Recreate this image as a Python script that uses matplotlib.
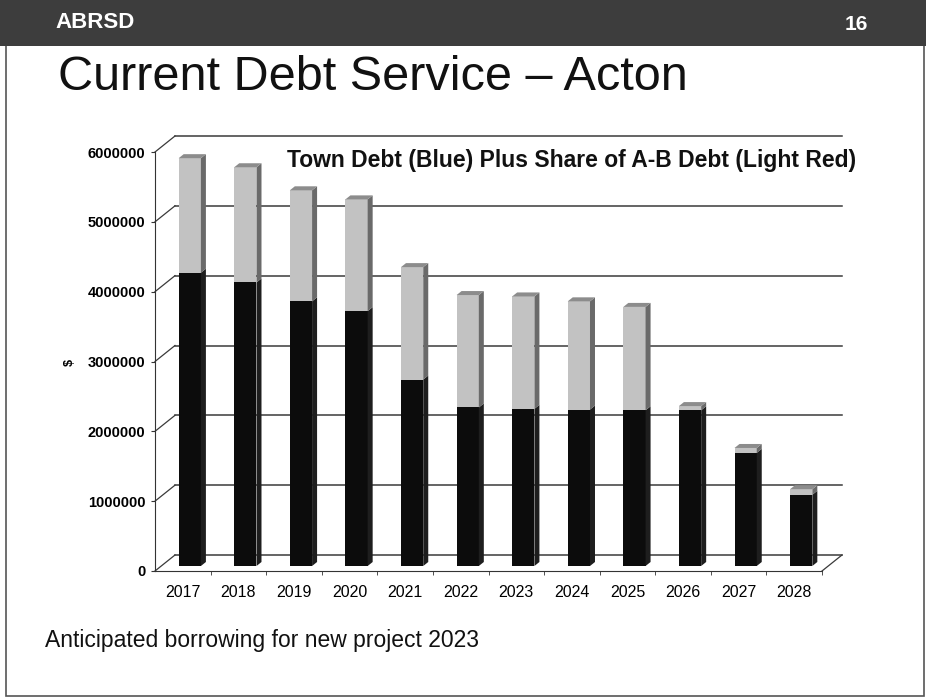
import matplotlib
matplotlib.use("Agg")
import matplotlib.pyplot as plt
from matplotlib.patches import Polygon, Rectangle
from matplotlib.transforms import offset_copy

# data ($)
years = ['2017', '2018', '2019', '2020', '2021', '2022',
         '2023', '2024', '2025', '2026', '2027', '2028']
town_debt = [4200000, 4060000, 3790000, 3650000, 2670000, 2270000,
             2250000, 2240000, 2230000, 2230000, 1620000, 1020000]
ab_share = [1640000, 1650000, 1590000, 1600000, 1610000, 1610000,
            1610000, 1550000, 1480000, 60000, 70000, 80000]
y_ticks = [0, 1000000, 2000000, 3000000, 4000000, 5000000, 6000000]

plt.rcParams['font.family'] = ['Liberation Sans', 'DejaVu Sans']

W, H = 926, 698
fig = plt.figure(figsize=(W / 100, H / 100), dpi=100)
fig.patch.set_facecolor('white')

# slide frame + header band
fig.add_artist(Rectangle((6 / W, 2 / H), 918 / W, 694 / H, transform=fig.transFigure,
                         fill=False, edgecolor='#555555', lw=1.2))
fig.add_artist(Rectangle((0, 1 - 46 / H), 1, 46 / H, transform=fig.transFigure,
                         facecolor='#3d3d3d', edgecolor='none'))
fig.text(55 / W, 1 - 23 / H, 'ABRSD', color='white', fontsize=16, fontweight='bold',
         ha='left', va='center')
fig.text(868 / W, 1 - 25 / H, '16', color='white', fontsize=15, fontweight='bold',
         ha='right', va='center')
fig.text(58 / W, 1 - 77 / H, 'Current Debt Service \u2013 Acton', fontsize=35,
         ha='left', va='center', color='#111111')
fig.text(45 / W, 1 - 640 / H, 'Anticipated borrowing for new project 2023', fontsize=16.5,
         ha='left', va='center', color='#111111')

# front plane of the 3D-look chart
ax = fig.add_axes([155 / W, (H - 571) / H, 667 / W, 419 / H])
ax.set_xlim(-0.5, len(years) - 0.5)
ax.set_ylim(0, 6000000)
ax.patch.set_alpha(0)
for s in ['top', 'right']:
    ax.spines[s].set_visible(False)
ax.spines['left'].set_color('#333333')
ax.spines['bottom'].set_color('#333333')

ax.set_yticks(y_ticks)
ax.set_yticklabels([str(v) for v in y_ticks], fontsize=10.5, fontweight='bold')
ax.tick_params(axis='y', length=3, pad=4, color='#333333')
ax.set_xticks(range(len(years)))
ax.set_xticklabels(years, fontsize=11.5)
ax.tick_params(axis='x', which='major', length=0, pad=10)
ax.set_xticks([i + 0.5 for i in range(len(years))], minor=True)
ax.tick_params(axis='x', which='minor', length=3, color='#333333')

fig.canvas.draw()
inv = ax.transData.inverted()


def px(dx, dy):
    x0, y0 = inv.transform((0, 0))
    x1, y1 = inv.transform((dx, dy))
    return x1 - x0, y1 - y0


bdx, bdy = px(20, 16)   # depth of back wall
ddx, ddy = px(5, 4)     # depth of each bar
x_lo, x_hi = -0.5, len(years) - 0.5

# back wall gridlines and left wall diagonals
for v in y_ticks:
    ax.plot([x_lo + bdx, x_hi + bdx], [v + bdy, v + bdy], color='#3a3a3a', lw=1.1,
            clip_on=False, zorder=1)
    ax.plot([x_lo, x_lo + bdx], [v, v + bdy], color='#3a3a3a', lw=0.9,
            clip_on=False, zorder=1)
ax.plot([x_hi, x_hi + bdx], [0, bdy], color='#3a3a3a', lw=0.9, clip_on=False, zorder=1)

# bars sit a bit behind the front plane
bar_tr = offset_copy(ax.transData, fig=fig, x=7, y=5, units='dots')
bw = 0.4
xs = list(range(len(years)))
tops = [a + b for a, b in zip(town_debt, ab_share)]

ax.bar(xs, town_debt, width=bw, color='#0c0c0c', transform=bar_tr, zorder=3)
ax.bar(xs, ab_share, bottom=town_debt, width=bw, color='#c2c2c2', transform=bar_tr, zorder=3)

for i in xs:
    xr = i + bw / 2
    xl = i - bw / 2
    # side faces
    ax.add_patch(Polygon([(xr, 0), (xr + ddx, ddy), (xr + ddx, town_debt[i] + ddy),
                          (xr, town_debt[i])], closed=True, facecolor='#1e1e1e',
                         edgecolor='none', transform=bar_tr, zorder=3))
    ax.add_patch(Polygon([(xr, town_debt[i]), (xr + ddx, town_debt[i] + ddy),
                          (xr + ddx, tops[i] + ddy), (xr, tops[i])], closed=True,
                         facecolor='#6a6a6a', edgecolor='none', transform=bar_tr, zorder=3))
    # top face
    ax.add_patch(Polygon([(xl, tops[i]), (xr, tops[i]), (xr + ddx, tops[i] + ddy),
                          (xl + ddx, tops[i] + ddy)], closed=True, facecolor='#8c8c8c',
                         edgecolor='none', transform=bar_tr, zorder=3))

fig.text(287 / W, 1 - 161 / H, 'Town Debt (Blue) Plus Share of A-B Debt (Light Red)',
         fontsize=16.5, fontweight='bold', ha='left', va='center', color='#111111')
fig.text(70 / W, 1 - 362 / H, '$', fontsize=9, fontweight='bold', rotation=90,
         ha='center', va='center')

fig.savefig('out.png', dpi=100)
